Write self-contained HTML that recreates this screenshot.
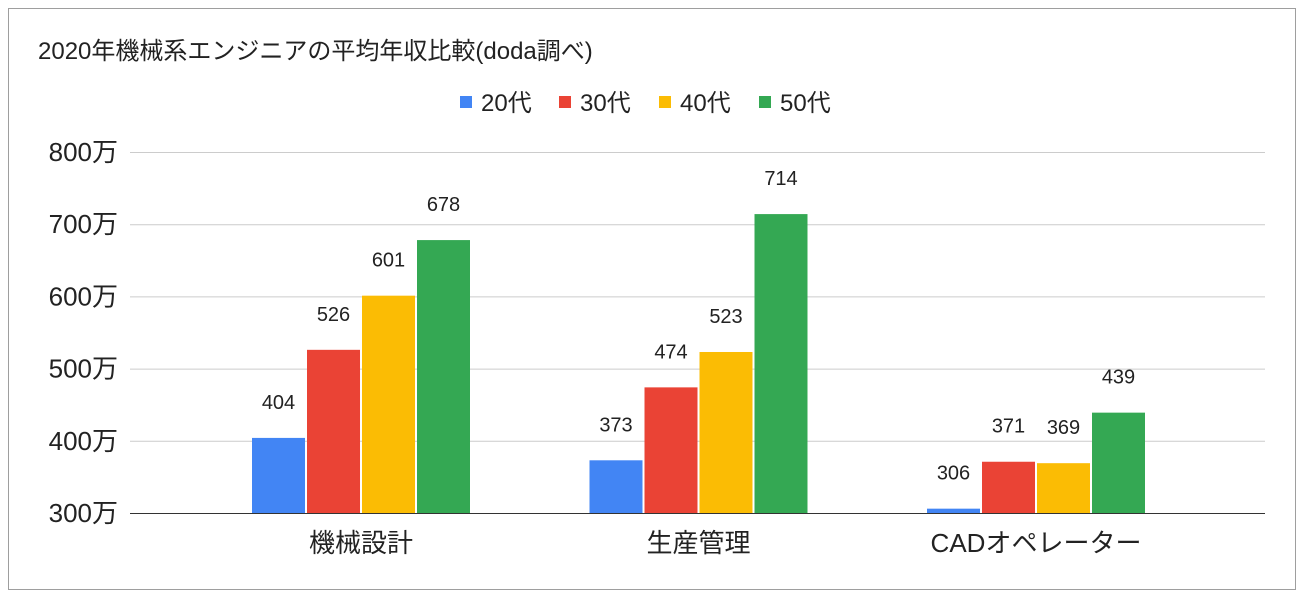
<!DOCTYPE html>
<html><head><meta charset="utf-8"><style>
html,body{margin:0;padding:0;background:#fff;}
body{width:1311px;height:599px;overflow:hidden;font-family:"Liberation Sans","Noto Sans CJK JP",sans-serif;}
svg text{font-family:"Liberation Sans","Noto Sans CJK JP",sans-serif;fill:#222;}
</style></head><body>
<svg id="chart" width="1311" height="599" xmlns="http://www.w3.org/2000/svg">
<rect x="8.5" y="8.5" width="1287" height="581" fill="#fff" stroke="#9e9e9e"/>
<text x="38" y="59" font-size="24">2020年機械系エンジニアの平均年収比較(doda調べ)</text>
<g id="legend"></g>
<g id="grid"></g>
<g id="yaxis"></g>
<g id="bars"></g>
<g id="xaxis"></g>
</svg>
<script>
const categories = ["機械設計","生産管理","CADオペレーター"];
const seriesNames = ["20代","30代","40代","50代"];
const s20 = [404,373,306];
const s30 = [526,474,371];
const s40 = [601,523,369];
const s50 = [678,714,439];
const yTicks = [300,400,500,600,700,800];
const yTickLabels = ["300万","400万","500万","600万","700万","800万"];

const series = [s20,s30,s40,s50];
const colors = ["#4285f4","#ea4335","#fbbc04","#34a853"];
const NS = "http://www.w3.org/2000/svg";
const yMin = 300, yMax = 800, yBottom = 513, yTop = 152;
function y(v){ return yBottom - (v - yMin) / (yMax - yMin) * (yBottom - yTop); }
function xCenter(i){ return 361 + i * 337.5; }
const barW = 53, barStep = 55;
function mk(tag, attrs, parent){ const e = document.createElementNS(NS, tag); for (const k in attrs) e.setAttribute(k, attrs[k]); parent.appendChild(e); return e; }

const grid = document.getElementById('grid'), yaxis = document.getElementById('yaxis');
yTicks.forEach((t, i) => {
  const l = mk('line', {x1:130, x2:1265, y1:y(t)+0.5, y2:y(t)+0.5, stroke: i === 0 ? '#333' : '#ccc', 'stroke-width':1}, grid);
  
  
  const tx = mk('text', {x:118, y:y(t)+9, 'font-size':26, 'text-anchor':'end'}, yaxis);
  tx.textContent = yTickLabels[i];
  
  
});

const bars = document.getElementById('bars'), xaxis = document.getElementById('xaxis');
categories.forEach((c, i) => {
  const cx = xCenter(i);
  series.forEach((s, j) => {
    const x0 = cx - 2 * barStep + 1 + j * barStep;
    const v = s[i];
    const r = mk('rect', {x:x0, y:y(v), width:barW, height:yBottom - y(v), fill:colors[j]}, bars);
    
    
    const t = mk('text', {x:x0 + barW/2, y:y(v) - 29, 'font-size':20, 'text-anchor':'middle'}, bars);
    t.textContent = v;
    
    
  });
  const lab = mk('text', {x:cx, y:552, 'font-size':26, 'text-anchor':'middle'}, xaxis);
  lab.textContent = c;
  
  
});

const legend = document.getElementById('legend');
const legX = [460, 559, 659, 759];
seriesNames.forEach((n, j) => {
  const sq = mk('rect', {x:legX[j], y:96, width:12, height:12, fill:colors[j]}, legend);
  
  
  const t = mk('text', {x:legX[j] + 21, y:111, 'font-size':24}, legend);
  t.textContent = n;
  
  
});
</script>
</body></html>
